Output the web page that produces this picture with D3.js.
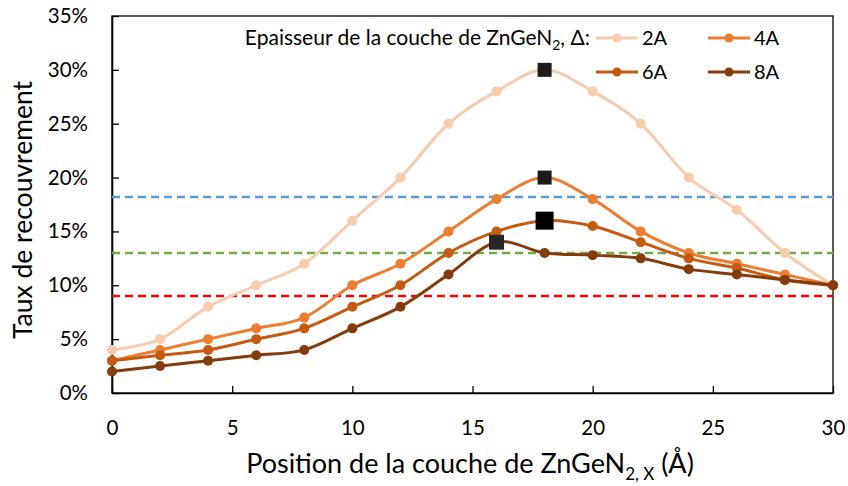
<!DOCTYPE html>
<html><head><meta charset="utf-8">
<script src="https://cdn.jsdelivr.net/npm/d3@7"></script>
<style>
body{margin:0;background:#fff}
svg{display:block}
text{font-family:Lato,"Open Sans",sans-serif;fill:#000}
</style>
</head><body>
<svg id="c" width="848" height="486"></svg>
<script>
// ---- data ----
const positions = [0,2,4,6,8,10,12,14,16,18,20,22,24,26,28,30];
const seriesNames = ["2A","4A","6A","8A"];
const s2A = [4,5,8,10,12,16,20,25,28,30,28,25,20,17,13,10];
const s4A = [3,4,5,6,7,10,12,15,18,20,18,15,13,12,11,10];
const s6A = [3,3.5,4,5,6,8,10,13,15,16,15.5,14,12.5,11.6,10.5,10];
const s8A = [2,2.5,3,3.5,4,6,8,11,14,13,12.8,12.5,11.5,11,10.5,10];
const peakX = [18,18,18,16];          // highlighted maximum per series
const refLevels = [18.2,13,9];        // horizontal dashed reference levels (%)
const yTicks = [0,5,10,15,20,25,30,35];
const xTicks = [0,5,10,15,20,25,30];

// ---- styles ----
const colors = ["#F8CBAD","#ED7D31","#C55A11","#843C0C"];
const refColors = ["#5B9BD5","#70AD47","#FF0000"];
const peakSizes = [14,14,18,15];
const peakColors = ["#1c1c1c","#1c1c1c","#000000","#262626"];

const allSeries = [s2A,s4A,s6A,s8A];
const svg = d3.select("#c");
const x = d3.scaleLinear().domain([0,30]).range([112,833]);
const y = d3.scaleLinear().domain([0,35]).range([393,16]);

// frame
svg.append("rect").attr("x",x(0)).attr("y",y(35)).attr("width",x(30)-x(0)).attr("height",y(0)-y(35))
  .attr("fill","none").attr("stroke","#000").attr("stroke-width",1.3);

// axes with inner ticks
const xa = svg.append("g").attr("transform",`translate(0,${y(0)})`)
  .call(d3.axisBottom(x).tickValues(xTicks).tickSizeInner(-7).tickSizeOuter(0).tickPadding(27).tickFormat(d3.format("d")));
const ya = svg.append("g").attr("transform",`translate(${x(0)},0)`)
  .call(d3.axisLeft(y).tickValues(yTicks).tickSizeInner(-7).tickSizeOuter(0).tickPadding(24).tickFormat(d=>d+"%"));
[xa,ya].forEach(g=>{
  g.select(".domain").attr("stroke","#000").attr("stroke-width",1.6);
  g.selectAll(".tick line").attr("stroke","#000").attr("stroke-width",1.3);
  g.selectAll(".tick text").style("font-size","20.5px").attr("fill","#000");
});

// reference dashed lines
svg.append("g").selectAll("line").data(refLevels).join("line")
  .attr("x1",x(0)).attr("x2",x(30)).attr("y1",d=>y(d)).attr("y2",d=>y(d))
  .attr("stroke",(d,i)=>refColors[i]).attr("stroke-width",2.6).attr("stroke-dasharray","8,5");

// series
const line = d3.line().x(d=>x(d[0])).y(d=>y(d[1])).curve(d3.curveCardinal.tension(0));
allSeries.forEach((vals,i)=>{
  const pts = positions.map((p,j)=>[p,vals[j]]);
  const g = svg.append("g");
  g.append("path").datum(pts).attr("d",line).attr("fill","none")
    .attr("stroke",colors[i]).attr("stroke-width",3);
  g.selectAll("circle").data(pts.filter(p=>p[0]!==peakX[i])).join("circle")
    .attr("cx",d=>x(d[0])).attr("cy",d=>y(d[1])).attr("r",5).attr("fill",colors[i]);
  const pk = pts.find(p=>p[0]===peakX[i]);
  const s = peakSizes[i];
  g.append("rect").attr("x",x(pk[0])-s/2).attr("y",y(pk[1])-s/2).attr("width",s).attr("height",s)
    .attr("fill",peakColors[i]);
});

// legend
const lg = svg.append("g");
const lt = lg.append("text").attr("x",590).attr("y",45).attr("text-anchor","end").style("font-size","21px");
lt.append("tspan").text("Epaisseur de la couche de ZnGeN");
lt.append("tspan").text("2").style("font-size","14px").attr("dy",5);
lt.append("tspan").text(", Δ:").attr("dy",-5);
const legPos = [[596,38],[708,38],[596,72],[708,72]];
seriesNames.forEach((n,i)=>{
  const [lx,ly] = legPos[i];
  lg.append("line").attr("x1",lx).attr("x2",lx+42).attr("y1",ly).attr("y2",ly)
    .attr("stroke",colors[i]).attr("stroke-width",3);
  lg.append("circle").attr("cx",lx+21).attr("cy",ly).attr("r",4.5).attr("fill",colors[i]);
  lg.append("text").attr("x",lx+46).attr("y",ly+7).style("font-size","20px").text(n);
});

// axis titles
svg.append("text").attr("transform","translate(32,210) rotate(-90)").attr("text-anchor","middle")
  .style("font-size","26.5px").text("Taux de recouvrement");
const xt = svg.append("text").attr("x",470).attr("y",473).attr("text-anchor","middle").style("font-size","27px");
xt.append("tspan").text("Position de la couche de ZnGeN");
xt.append("tspan").text("2, X").style("font-size","17px").attr("dy",7);
xt.append("tspan").text(" (Å)").attr("dy",-7);
</script>
</body></html>
